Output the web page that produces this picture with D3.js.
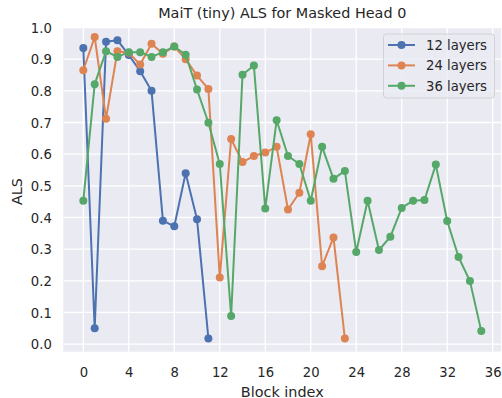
<!DOCTYPE html>
<html>
<head>
<meta charset="utf-8">
<script src="https://cdn.jsdelivr.net/npm/d3@7"></script>
<style>
  body { margin: 0; background: #fff; }
  svg { display: block; font-family: "DejaVu Sans", sans-serif; }
</style>
</head>
<body>
<svg width="502" height="398"></svg>
<script>
// ALS per block
const als12 = [0.935, 0.05, 0.955, 0.96, 0.913, 0.862, 0.80, 0.39, 0.372, 0.54, 0.394, 0.018];
const als24 = [0.865, 0.97, 0.712, 0.925, 0.92, 0.883, 0.949, 0.917, 0.94, 0.90, 0.848, 0.806,
               0.21, 0.648, 0.575, 0.594, 0.605, 0.623, 0.425, 0.478, 0.663, 0.246, 0.337, 0.018];
const als36 = [0.453, 0.821, 0.925, 0.907, 0.922, 0.922, 0.907, 0.922, 0.94, 0.914, 0.804, 0.699,
               0.569, 0.089, 0.851, 0.88, 0.428, 0.707, 0.594, 0.569, 0.453, 0.623, 0.522, 0.547,
               0.291, 0.453, 0.297, 0.339, 0.43, 0.453, 0.455, 0.567, 0.389, 0.275, 0.199, 0.041];
const seriesNames = ["12 layers", "24 layers", "36 layers"];
const seriesColors = ["#4C72B0", "#DD8452", "#55A868"];
const xTicks = [0, 4, 8, 12, 16, 20, 24, 28, 32, 36];
const yTicks = [0.0, 0.1, 0.2, 0.3, 0.4, 0.5, 0.6, 0.7, 0.8, 0.9, 1.0];

const allSeries = [als12, als24, als36];

const plotLeft = 63.3, plotRight = 501.2, plotTop = 27.5, plotBottom = 351.7;
const textColor = "#262626";

const svg = d3.select("svg");

const x = d3.scaleLinear().domain([-1.76, 36.75]).range([plotLeft, plotRight]);
const y = d3.scaleLinear().domain([-0.024, 1.0]).range([plotBottom, plotTop]);

// background
svg.append("rect")
    .attr("x", plotLeft).attr("y", plotTop)
    .attr("width", plotRight - plotLeft).attr("height", plotBottom - plotTop)
    .attr("fill", "#EAEAF2");

// grid
const grid = svg.append("g");
grid.selectAll(".gx").data(xTicks).enter().append("line")
    .attr("x1", d => x(d)).attr("x2", d => x(d))
    .attr("y1", plotTop).attr("y2", plotBottom)
    .attr("stroke", "#fff").attr("stroke-width", 1.3);
grid.selectAll(".gy").data(yTicks).enter().append("line")
    .attr("x1", plotLeft).attr("x2", plotRight)
    .attr("y1", d => y(d)).attr("y2", d => y(d))
    .attr("stroke", "#fff").attr("stroke-width", 1.3);

// X ticks
const xAxis = d3.axisBottom(x).tickValues(xTicks).tickSize(0).tickPadding(0).tickFormat(d3.format("d"));
svg.append("g")
    .attr("transform", `translate(0, ${plotBottom})`)
    .call(xAxis)
    .call(g => g.select(".domain").remove())
    .selectAll("text")
    .attr("y", 25).attr("dy", 0)
    .attr("font-size", "13.2px")
    .attr("font-family", "DejaVu Sans")
    .attr("fill", textColor);

// Y ticks
const yAxis = d3.axisLeft(y).tickValues(yTicks).tickSize(0).tickPadding(0).tickFormat(d3.format(".1f"));
svg.append("g")
    .attr("transform", `translate(${plotLeft}, 0)`)
    .call(yAxis)
    .call(g => g.select(".domain").remove())
    .selectAll("text")
    .attr("x", -11.5).attr("dy", "0.36em")
    .attr("font-size", "13.2px")
    .attr("font-family", "DejaVu Sans")
    .attr("fill", textColor);

// labels
svg.append("text")
    .attr("x", (plotLeft + plotRight) / 2).attr("y", 396.5)
    .attr("text-anchor", "middle")
    .attr("font-size", "14.4px")
    .attr("fill", textColor)
    .text("Block index");

svg.append("text")
    .attr("transform", `translate(21.5, ${(plotTop + plotBottom) / 2 + 2}) rotate(-90)`)
    .attr("text-anchor", "middle")
    .attr("font-size", "14.4px")
    .attr("fill", textColor)
    .text("ALS");

svg.append("text")
    .attr("x", (plotLeft + plotRight) / 2).attr("y", 18.3)
    .attr("text-anchor", "middle")
    .attr("font-size", "14.4px")
    .attr("fill", textColor)
    .text("MaiT (tiny) ALS for Masked Head 0");

// lines + markers
const line = d3.line().x((d, i) => x(i)).y(d => y(d));
allSeries.forEach((vals, k) => {
    const g = svg.append("g");
    g.append("path")
        .datum(vals)
        .attr("d", line)
        .attr("fill", "none")
        .attr("stroke", seriesColors[k])
        .attr("stroke-width", 2)
        .attr("stroke-linejoin", "round");
    g.selectAll("circle").data(vals).enter().append("circle")
        .attr("cx", (d, i) => x(i))
        .attr("cy", d => y(d))
        .attr("r", 4)
        .attr("fill", seriesColors[k]);
});

// legend
const legend = svg.append("g");
legend.append("rect")
    .attr("x", 383.5).attr("y", 34)
    .attr("width", 111).attr("height", 64)
    .attr("rx", 3)
    .attr("fill", "#EAEAF2").attr("fill-opacity", 0.8)
    .attr("stroke", "#cccccc").attr("stroke-opacity", 0.8);

const items = legend.selectAll(".item").data(seriesNames).enter().append("g")
    .attr("transform", (d, i) => `translate(0, ${45 + i * 20.4})`);
items.append("line")
    .attr("x1", 388).attr("x2", 415)
    .attr("stroke", (d, i) => seriesColors[i]).attr("stroke-width", 2);
items.append("circle")
    .attr("cx", 401.5).attr("r", 4)
    .attr("fill", (d, i) => seriesColors[i]);
items.append("text")
    .attr("x", 426).attr("dy", "0.36em")
    .attr("font-size", "13.2px")
    .attr("fill", textColor)
    .text(d => d);
</script>
</body>
</html>
